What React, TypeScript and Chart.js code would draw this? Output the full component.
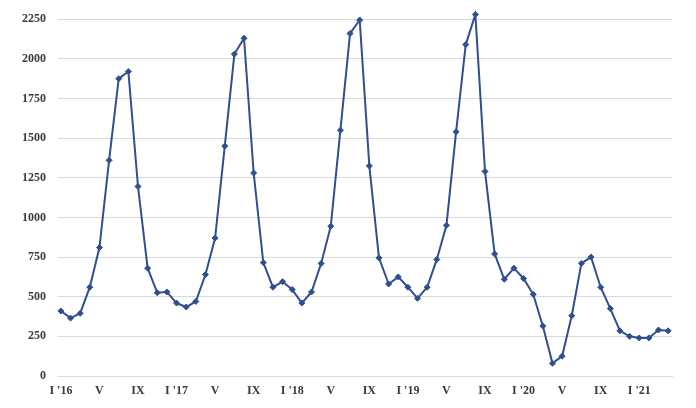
import React, { useEffect, useRef } from "react";
import { Chart, registerables } from "chart.js";

Chart.register(...registerables);

const values2016 = [410, 365, 395, 560, 810, 1360, 1875, 1920, 1195, 680, 525, 530];
const values2017 = [460, 435, 470, 640, 870, 1450, 2030, 2130, 1280, 715, 560, 595];
const values2018 = [545, 460, 530, 710, 945, 1550, 2160, 2245, 1325, 745, 580, 625];
const values2019 = [560, 490, 560, 735, 950, 1540, 2090, 2280, 1290, 770, 610, 680];
const values2020 = [615, 515, 315, 80, 125, 380, 710, 750, 560, 425, 285, 250];
const values2021 = [240, 240, 290, 285];

const values = [...values2016, ...values2017, ...values2018, ...values2019, ...values2020, ...values2021];

const tickIndexes = [0, 4, 8, 12, 16, 20, 24, 28, 32, 36, 40, 44, 48, 52, 56, 60];
const tickLabels = ["I '16", "V", "IX", "I '17", "V", "IX", "I '18", "V", "IX", "I '19", "V", "IX", "I '20", "V", "IX", "I '21"];

const yTicks = [0, 250, 500, 750, 1000, 1250, 1500, 1750, 2000, 2250];

export default function App() {
  const ref = useRef<HTMLCanvasElement | null>(null);
  useEffect(() => {
    if (!ref.current) return;
    const chart = new Chart(ref.current, {
      type: "line",
      data: {
        datasets: [
          {
            data: values.map((v, i) => ({ x: i, y: v })),
            borderColor: "#2F4F8F",
            backgroundColor: "#2F4F8F",
            borderWidth: 2,
            pointStyle: "rectRot",
            pointRadius: 3,
            pointBorderWidth: 1,
            tension: 0,
            clip: false as any,
          },
        ],
      },
      options: {
        animation: false,
        responsive: false,
        maintainAspectRatio: false,
        layout: { padding: { top: 17.5, right: 24, left: 0, bottom: 0 } },
        plugins: { legend: { display: false }, tooltip: { enabled: false } },
        scales: {
          x: {
            type: "linear",
            min: -0.3,
            max: 63.4,
            grid: { display: false, drawTicks: false },
            border: { display: true, color: "#d9d9d9", width: 1 },
            afterBuildTicks: (axis: any) => {
              axis.ticks = tickIndexes.map((v) => ({ value: v }));
            },
            afterFit: (axis: any) => {
              axis.height = 32;
            },
            ticks: {
              autoSkip: false,
              maxRotation: 0,
              padding: 8,
              color: "#3a3a3a",
              font: { family: "'Liberation Serif', 'Times New Roman', serif", size: 12, weight: "bold" },
              callback: (value: any) => {
                const idx = tickIndexes.indexOf(Number(value));
                return idx >= 0 ? tickLabels[idx] : "";
              },
            },
          },
          y: {
            min: 0,
            max: 2250,
            grid: { color: "#d9d9d9", lineWidth: 1, drawTicks: false },
            border: { display: false },
            afterBuildTicks: (axis: any) => {
              axis.ticks = yTicks.map((v) => ({ value: v }));
            },
            afterFit: (axis: any) => {
              axis.width = 58;
            },
            ticks: {
              padding: 12,
              color: "#3a3a3a",
              font: { family: "'Liberation Serif', 'Times New Roman', serif", size: 12, weight: "bold" },
              callback: (value: any) => String(value),
            },
          },
        },
      },
    });
    return () => chart.destroy();
  }, []);
  return (
    <div style={{ position: "fixed", left: 0, top: 0, width: 696, height: 408, background: "#fff" }}>
      <canvas ref={ref} width={696} height={408} style={{ width: 696, height: 408 }} />
    </div>
  );
}
